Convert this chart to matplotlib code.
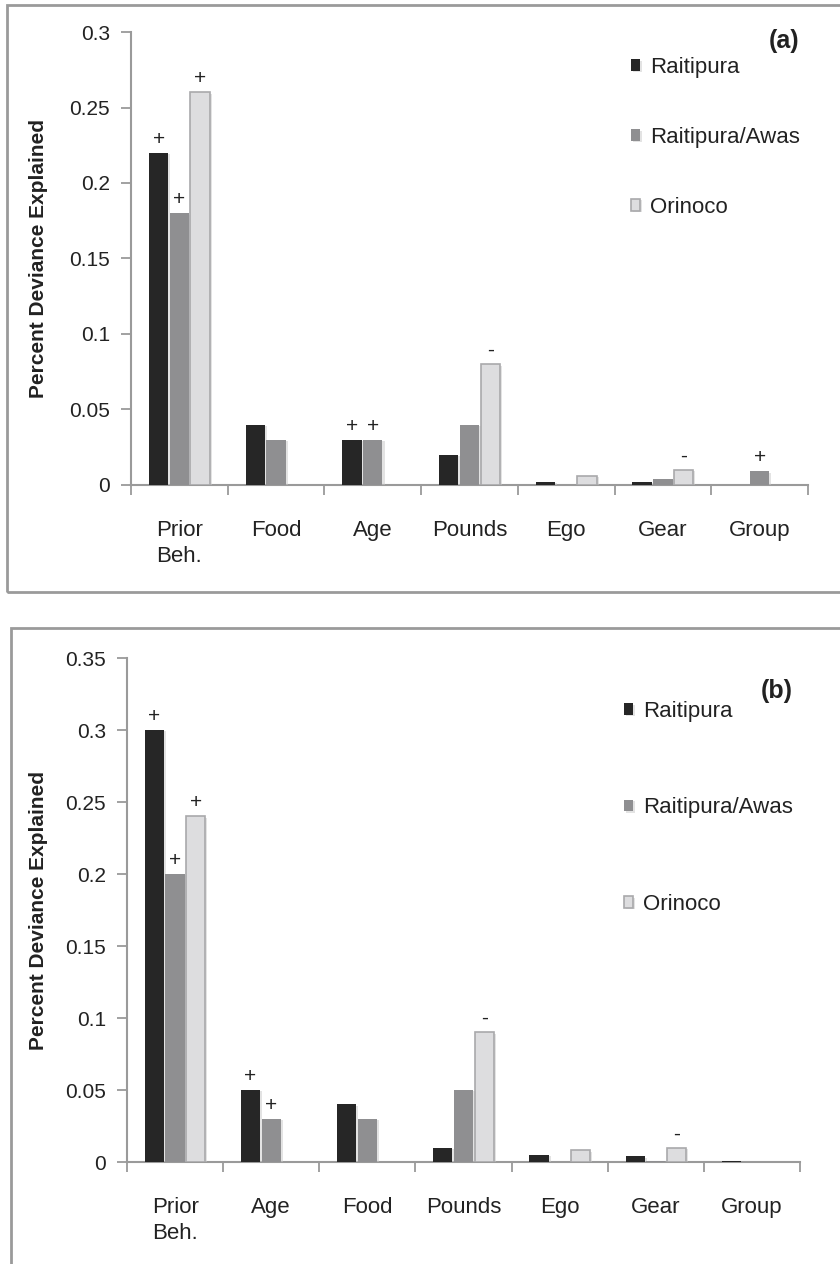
import numpy as np
import matplotlib
matplotlib.use('Agg')
from matplotlib import pyplot as plt
from matplotlib.patches import Rectangle
import matplotlib.patheffects as pe

plt.rcParams['font.family'] = ['Liberation Sans', 'DejaVu Sans']

series = ['Raitipura', 'Raitipura/Awas', 'Orinoco']

# panel (a)
cats_a = ['Prior\nBeh.', 'Food', 'Age', 'Pounds', 'Ego', 'Gear', 'Group']
rait_a = [0.22, 0.04, 0.03, 0.02, 0.002, 0.002, 0.0]
awas_a = [0.18, 0.03, 0.03, 0.04, 0.0, 0.004, 0.009]
orin_a = [0.26, 0.0, 0.0, 0.08, 0.006, 0.01, 0.0]
sign_rait_a = ['+', '', '+', '', '', '', '']
sign_awas_a = ['+', '', '+', '', '', '', '+']
sign_orin_a = ['+', '', '', '-', '', '-', '']

# panel (b)
cats_b = ['Prior\nBeh.', 'Age', 'Food', 'Pounds', 'Ego', 'Gear', 'Group']
rait_b = [0.30, 0.05, 0.04, 0.01, 0.005, 0.004, 0.001]
awas_b = [0.20, 0.03, 0.03, 0.05, 0.0, 0.001, 0.0]
orin_b = [0.24, 0.0, 0.0, 0.09, 0.008, 0.01, 0.0]
sign_rait_b = ['+', '+', '', '', '', '', '']
sign_awas_b = ['+', '+', '', '', '', '', '']
sign_orin_b = ['+', '', '', '-', '', '-', '']

colors = ['#262626', '#8f8f91', '#dddddf']
edges = ['none', 'none', '#a9a9ab']
txt = '#222222'
axis_gray = '#9a9a9a'

fig = plt.figure(figsize=(8.4, 12.64), dpi=100)

# outer frames of the two panels
fig.patches.append(Rectangle((7 / 840, 1 - 592 / 1264), 1.0, 587 / 1264,
                             transform=fig.transFigure, fill=False,
                             ec='#9a9a9a', lw=2.0))
fig.patches.append(Rectangle((11 / 840, -0.05), 1.0, 0.05 + 1 - 628 / 1264,
                             transform=fig.transFigure, fill=False,
                             ec='#9a9a9a', lw=2.0))


def draw_panel(ax, cats, vals, signs, ymax, ystep, tag, leg_y, leg_space, tag_y):
    x = np.arange(len(cats)) + 0.5
    offs = [-0.215, 0.0, 0.215]
    handles = []
    for k in range(3):
        b = ax.bar(x + offs[k], vals[k], width=0.2, color=colors[k],
                   edgecolor=edges[k], linewidth=1.2, label=series[k], zorder=3)
        for p, v in zip(b, vals[k]):
            if v == 0:
                p.set_visible(False)
            p.set_path_effects([pe.SimplePatchShadow(offset=(1.5, -1.0),
                                                     shadow_rgbFace='#c8c8c8',
                                                     alpha=0.5),
                                pe.Normal()])
        handles.append(b)
        for xi, v, s in zip(x + offs[k], vals[k], signs[k]):
            if s:
                ax.annotate(s, (xi, v), xytext=(0, 3), textcoords='offset points',
                            ha='center', va='bottom', fontsize=15, color=txt)
    ax.set_xlim(0, len(cats))
    ax.set_ylim(0, ymax)
    ax.set_yticks(np.arange(0, ymax + 1e-9, ystep))
    ax.set_yticklabels(['%g' % t for t in np.arange(0, ymax + 1e-9, ystep)])
    ax.set_xticks(np.arange(len(cats) + 1))
    ax.set_xticklabels([])
    ax.set_xticks(x, minor=True)
    ax.set_xticklabels(cats, minor=True, fontsize=16, color=txt, va='top',
                       linespacing=1.35)
    ax.tick_params(axis='x', which='minor', length=0, pad=25)
    ax.tick_params(axis='x', which='major', length=7, color=axis_gray, width=1.3)
    ax.tick_params(axis='y', length=7, color=axis_gray, width=1.3,
                   labelsize=15, labelcolor=txt, pad=8)
    for s in ['top', 'right']:
        ax.spines[s].set_visible(False)
    for s in ['left', 'bottom']:
        ax.spines[s].set_color(axis_gray)
        ax.spines[s].set_linewidth(1.5)
    ax.set_ylabel('Percent Deviance Explained', fontsize=15, fontweight='bold',
                  color=txt)
    ax.text(0.965, tag_y, tag, transform=ax.transAxes, fontsize=18,
            fontweight='bold', ha='center', va='center', color=txt)
    ax.legend(handles=handles, loc='upper left', bbox_to_anchor=(0.738, leg_y),
              frameon=False, fontsize=16, handlelength=0.42, handleheight=0.42,
              handletextpad=0.45, labelspacing=leg_space, labelcolor=txt,
              borderaxespad=0, borderpad=0)


ax1 = fig.add_axes([131 / 840, 1 - 485 / 1264, 677 / 840, 453 / 1264])
draw_panel(ax1, cats_a, [rait_a, awas_a, orin_a],
           [sign_rait_a, sign_awas_a, sign_orin_a],
           0.3, 0.05, '(a)', 0.945, 2.2, 0.98)
ax1.yaxis.set_label_coords(-0.122, 0.5)

ax2 = fig.add_axes([127 / 840, 1 - 1162 / 1264, 673 / 840, 504 / 1264])
draw_panel(ax2, cats_b, [rait_b, awas_b, orin_b],
           [sign_rait_b, sign_awas_b, sign_orin_b],
           0.35, 0.05, '(b)', 0.915, 3.4, 0.935)
ax2.yaxis.set_label_coords(-0.117, 0.5)

fig.savefig('out.png', dpi=100)
